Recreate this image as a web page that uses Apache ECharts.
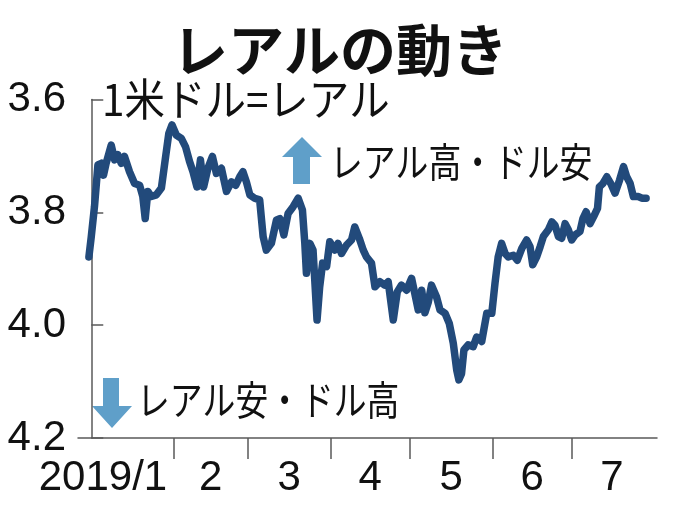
<!DOCTYPE html>
<html><head><meta charset="utf-8">
<script src="https://cdn.jsdelivr.net/npm/echarts@6/dist/echarts.min.js"></script>
<style>html,body{margin:0;padding:0;background:#fff}#c{width:680px;height:510px}</style>
</head><body><div id="c"></div>
<script>
// days since 2019-01-01
const days = [-0.9,0.0,1.2,2.5,3.8,4.6,5.6,7.5,8.8,10.0,11.3,12.5,14.4,16.3,18.2,19.4,20.3,21.3,22.6,24.5,26.4,28.0,29.2,30.4,32.0,33.9,35.5,37.0,38.3,39.8,41.1,42.3,43.9,45.6,47.1,49.0,50.9,52.8,54.4,55.9,57.1,58.4,59.7,61.5,63.4,64.7,65.9,67.8,69.7,71.0,72.5,74.1,76.0,77.9,79.5,80.4,81.0,82.3,83.5,85.0,86.0,87.1,88.6,89.8,91.7,92.9,94.2,96.1,98.0,99.2,100.9,102.4,103.6,105.5,106.8,108.7,110.5,111.8,113.7,115.2,116.8,118.7,120.6,121.8,123.1,124.4,125.6,126.9,128.1,130.0,131.3,133.2,134.8,136.3,137.6,138.4,139.4,140.3,141.9,143.8,145.1,147.0,148.9,150.8,152.0,153.2,154.5,155.8,157.0,158.9,160.4,162.1,163.9,165.2,166.2,167.7,169.0,170.2,172.1,173.4,174.6,175.9,177.1,178.4,179.6,180.9,182.2,184.0,185.1,186.3,187.8,189.1,190.6,191.3,192.6,194.1,195.6,197.2,198.9,200.4,201.6,202.9,204.1,206.0,207.3,208.9];
// reais per US dollar
const rates = [3.879,3.843,3.790,3.716,3.713,3.734,3.713,3.681,3.707,3.698,3.713,3.701,3.728,3.749,3.752,3.772,3.811,3.763,3.772,3.769,3.757,3.701,3.660,3.645,3.663,3.669,3.684,3.710,3.728,3.755,3.707,3.755,3.722,3.701,3.731,3.722,3.763,3.746,3.752,3.737,3.728,3.746,3.769,3.775,3.778,3.843,3.867,3.855,3.814,3.811,3.840,3.802,3.790,3.775,3.796,3.855,3.908,3.855,3.867,3.991,3.932,3.890,3.896,3.852,3.867,3.855,3.873,3.858,3.849,3.826,3.846,3.867,3.879,3.890,3.932,3.923,3.929,3.923,3.991,3.941,3.929,3.938,3.917,3.944,3.973,3.938,3.978,3.959,3.929,3.950,3.973,3.979,3.997,4.032,4.080,4.097,4.086,4.044,4.035,4.038,4.021,4.029,3.979,3.979,3.926,3.879,3.855,3.873,3.879,3.876,3.885,3.864,3.849,3.861,3.893,3.879,3.861,3.843,3.831,3.817,3.823,3.843,3.846,3.820,3.831,3.849,3.840,3.834,3.811,3.799,3.820,3.808,3.793,3.755,3.749,3.737,3.749,3.766,3.743,3.719,3.737,3.749,3.772,3.772,3.775,3.775];
// month boundaries (day index of the 1st of Feb..Jul)
const monthStarts = [31,59,90,120,151,181];
// month labels and where they sit
const monthLabels = ['2019/1','2','3','4','5','6','7'];
const monthLabelPos = [4.4,45,74.5,105,135.5,166,196];
const yTicks = [3.6,3.8,4.0,4.2];

const chart = echarts.init(document.getElementById('c'), null, {renderer:'canvas'});
const numFont = '"Liberation Sans",Arial,sans-serif';
const jpFont = '"Noto Sans CJK JP",sans-serif';
const axisCol = '#5a5a5a';
const arrowCol = '#5f9fc9';

chart.setOption({
  animation:false,
  backgroundColor:'#fff',
  title:{
    text:'レアルの動き', left:'center', top:17,
    textStyle:{fontFamily:jpFont, fontWeight:'bold', fontSize:56, color:'#111'}
  },
  grid:{left:78, right:23, top:99.5, bottom:72, containLabel:false},
  xAxis:{
    type:'value', min:-5, max:213,
    axisLine:{show:true, lineStyle:{color:axisCol, width:1.5}},
    axisTick:{show:true, inside:false, length:21, customValues:monthStarts, lineStyle:{color:axisCol, width:1.5}},
    axisLabel:{show:true, customValues:monthLabelPos, margin:19,
      formatter:function(v){const i=monthLabelPos.indexOf(v); return i>=0?monthLabels[i]:'';},
      fontFamily:numFont, fontSize:42, color:'#111'},
    splitLine:{show:false}
  },
  yAxis:{
    type:'value', inverse:true, min:3.6, max:4.2, interval:0.2,
    axisLine:{show:true, lineStyle:{color:axisCol, width:1.5}},
    axisTick:{show:true, inside:true, length:12, customValues:yTicks, lineStyle:{color:axisCol, width:1.5}},
    axisLabel:{show:true, customValues:yTicks, margin:12, formatter:function(v){return v.toFixed(1);},
      fontFamily:numFont, fontSize:42, color:'#111'},
    splitLine:{show:false}
  },
  series:[{
    type:'line', data:days.map((d,i)=>[d,rates[i]]), showSymbol:false, symbol:'none',
    lineStyle:{color:'#224a7b', width:7.5, join:'round', cap:'round'}, clip:false
  }],
  graphic:[
    {type:'text', x:102, y:99, scaleX:0.92, scaleY:1,
      style:{text:'1米ドル=レアル', x:0, y:0, fontFamily:jpFont, fontSize:44, fill:'#111', textAlign:'left', textVerticalAlign:'middle'}},
    {type:'polygon', shape:{points:[[302,137],[322,157],[310,157],[310,184],[293,184],[293,157],[282,157]]}, style:{fill:arrowCol}},
    {type:'text', x:330, y:162, scaleX:0.82, scaleY:1,
      style:{text:'レアル高・ドル安', x:0, y:0, fontFamily:jpFont, fontSize:40, fill:'#111', textAlign:'left', textVerticalAlign:'middle'}},
    {type:'polygon', shape:{points:[[103,378],[119,378],[119,406],[132,406],[112,428],[92,406],[103,406]]}, style:{fill:arrowCol}},
    {type:'text', x:137, y:400, scaleX:0.82, scaleY:1,
      style:{text:'レアル安・ドル高', x:0, y:0, fontFamily:jpFont, fontSize:40, fill:'#111', textAlign:'left', textVerticalAlign:'middle'}}
  ]
});
</script></body></html>
